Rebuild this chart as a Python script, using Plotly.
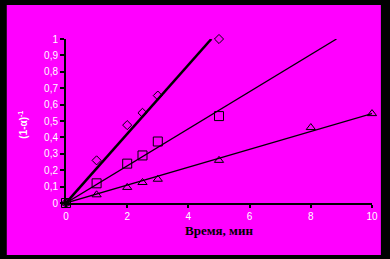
import plotly.graph_objects as go

# Data
diamond_x = [0, 1, 2, 2.5, 3, 5]
diamond_y = [0, 0.26, 0.475, 0.55, 0.655, 1.0]
square_x = [0, 1, 2, 2.5, 3, 5]
square_y = [0, 0.12, 0.24, 0.29, 0.375, 0.53]
triangle_x = [0, 1, 2, 2.5, 3, 5, 8, 10]
triangle_y = [0, 0.05, 0.095, 0.125, 0.145, 0.26, 0.46, 0.545]

# Fitted lines (endpoints)
fit1_x = [0, 4.75]
fit1_y = [0, 1.0]
fit2_x = [0, 8.84]
fit2_y = [0, 1.0]
fit3_x = [0, 10]
fit3_y = [0, 0.545]

x_ticks = [0, 2, 4, 6, 8, 10]
y_ticks = [0, 0.1, 0.2, 0.3, 0.4, 0.5, 0.6, 0.7, 0.8, 0.9, 1]
y_tick_text = ["0", "0,1", "0,2", "0,3", "0,4", "0,5", "0,6", "0,7", "0,8", "0,9", "1"]

MAG = "#FF00FF"

fig = go.Figure()
fig.add_trace(go.Scatter(x=fit1_x, y=fit1_y, mode="lines",
                         line=dict(color="black", width=2.5), cliponaxis=False))
fig.add_trace(go.Scatter(x=fit2_x, y=fit2_y, mode="lines",
                         line=dict(color="black", width=1.3), cliponaxis=False))
fig.add_trace(go.Scatter(x=fit3_x, y=fit3_y, mode="lines",
                         line=dict(color="black", width=1.3), cliponaxis=False))
fig.add_trace(go.Scatter(x=diamond_x, y=diamond_y, mode="markers", cliponaxis=False,
                         marker=dict(symbol="diamond-open", size=7, color="black",
                                     line=dict(width=1, color="black"))))
fig.add_trace(go.Scatter(x=square_x, y=square_y, mode="markers", cliponaxis=False,
                         marker=dict(symbol="square-open", size=9, color="black",
                                     line=dict(width=1, color="black"))))
fig.add_trace(go.Scatter(x=triangle_x, y=triangle_y, mode="markers", cliponaxis=False,
                         marker=dict(symbol="triangle-up-open", size=8, color="black",
                                     line=dict(width=1, color="black"))))

L, R, T, B = 66, 14, 39, 56
W, H = 390, 259
pw = W - L - R
ph = H - T - B

def px2x(px):
    return (px - L) / pw

def py2y(py):
    return (H - B - py) / ph

fig.add_shape(type="rect", xref="paper", yref="paper",
              x0=px2x(6), x1=px2x(385), y0=py2y(255), y1=py2y(5),
              fillcolor=MAG, line=dict(width=0), layer="below")

fig.add_annotation(x=px2x(221), y=py2y(240), xref="paper", yref="paper",
                   text="<b>Время, мин</b>", showarrow=False,
                   font=dict(family="Liberation Serif", size=13, color="black"))
fig.add_annotation(x=px2x(14), y=py2y(125), xref="paper", yref="paper",
                   text="<b>(1-α)<sup>-1</sup></b>", showarrow=False, textangle=-90,
                   font=dict(family="Liberation Sans", size=10, color="white"))

fig.update_layout(
    width=W, height=H,
    margin=dict(l=L, r=R, t=T, b=B),
    paper_bgcolor="black",
    plot_bgcolor=MAG,
    showlegend=False,
    font=dict(family="Liberation Sans", size=10, color="white"),
)
fig.update_xaxes(range=[0, 10], tickvals=x_ticks, ticktext=[str(v) for v in x_ticks],
                 showgrid=False, zeroline=False, showline=True, linecolor="black",
                 linewidth=1.5, ticks="outside", ticklen=3, tickwidth=2,
                 tickcolor="black", tickfont=dict(size=10, color="white"))
fig.update_yaxes(range=[0, 1], tickvals=y_ticks, ticktext=y_tick_text,
                 showgrid=False, zeroline=False, showline=True, linecolor="black",
                 linewidth=2, ticks="outside", ticklen=4, tickwidth=2,
                 tickcolor="black", tickfont=dict(size=10, color="white"))

fig.write_html("out.html")
